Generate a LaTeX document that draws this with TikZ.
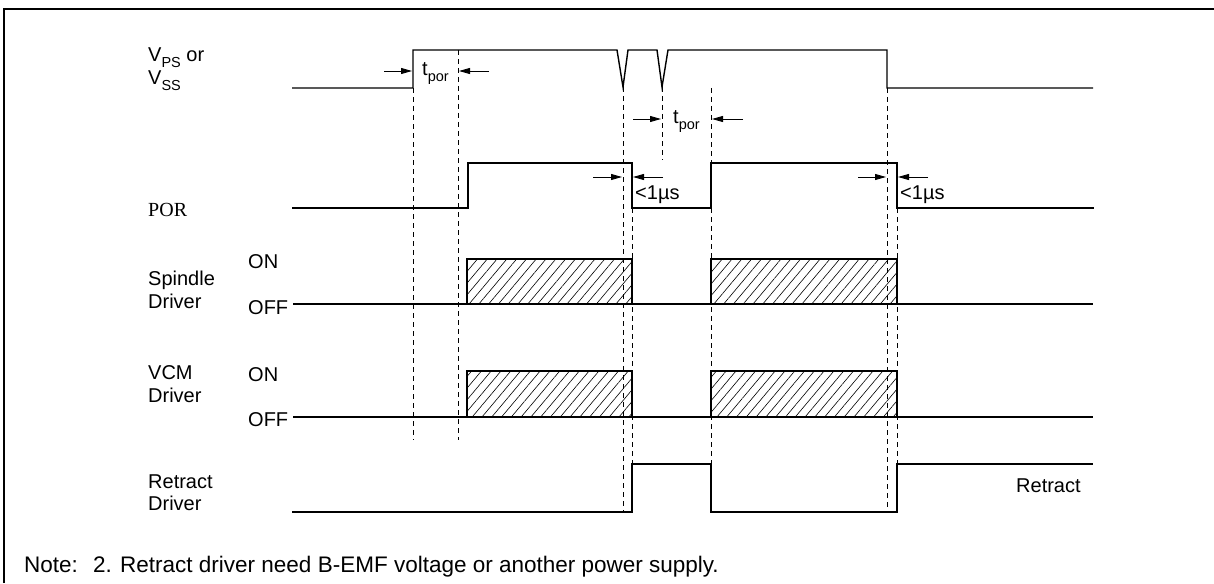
\documentclass[tikz,border=0pt]{standalone}
\usepackage{fontspec}
\setmainfont{Liberation Sans}
\newfontfamily\porfont{Liberation Serif}
\usetikzlibrary{arrows.meta,patterns.meta}
\newcommand{\sbs}[1]{\raisebox{-0.28em}{\fontsize{14.5}{15}\selectfont #1}}
\begin{document}
\begin{tikzpicture}[x=1pt,y=-1pt,
  sig/.style={line width=1.4pt},
  guide/.style={line width=0.9pt,dash pattern=on 5pt off 4pt},
  arr/.style={line width=0.9pt,-{Triangle[length=11pt,width=6pt]}},
  hatchbox/.style={draw,line width=1.4pt,pattern={Lines[angle=50,distance=7.5pt,line width=0.6pt]}},
  lbl/.style={anchor=base west,inner sep=0pt,font=\fontsize{20}{22}\selectfont},
  notetxt/.style={anchor=base west,inner sep=0pt,font=\fontsize{22.5}{24}\selectfont},
]
\useasboundingbox (0,0) rectangle (1214,583);
\fill[white] (0,0) rectangle (1214,583);
% frame
\draw[line width=1.2pt] (4,583) -- (4,9) -- (1214,9);

% ---- signal labels
\node[lbl] (vps) at (148,62) {V\sbs{PS} or};
\node[lbl] (vss) at (148,85) {V\sbs{SS}};
\node[lbl,font=\porfont\fontsize{20}{22}\selectfont] (por) at (148,216) {POR};
\node[lbl] (sp1) at (148,285) {Spindle};
\node[lbl] (sp2) at (148,308) {Driver};
\node[lbl] (vc1) at (148,379) {VCM};
\node[lbl] (vc2) at (148,402) {Driver};
\node[lbl] (re1) at (148,488) {Retract};
\node[lbl] (re2) at (148,510) {Driver};
\node[lbl] (on1) at (248,268) {ON};
\node[lbl] (off1) at (248,314) {OFF};
\node[lbl] (on2) at (248,381) {ON};
\node[lbl] (off2) at (248,426) {OFF};
\node[lbl] (retr) at (1016,492) {Retract};

% ---- dashed guides
\draw[guide] (413,88) -- (413,440);
\draw[guide] (458,50) -- (458,440);
\draw[guide] (623,87) -- (623,512);
\draw[guide] (632,208) -- (632,464);
\draw[guide] (662,87) -- (662,160);
\draw[guide] (711,88) -- (711,163);
\draw[guide] (711,208) -- (711,464);
\draw[guide] (887,88) -- (887,512);
\draw[guide] (897,208) -- (897,464);

% ---- V_PS / V_SS
\draw[sig] (292,88) -- (413,88) -- (413,50) -- (617,50) -- (623,87) -- (628,50)
  -- (657,50) -- (662,87) -- (668,50) -- (887,50) -- (887,88) -- (1093,88);

% ---- POR
\draw[sig] (292,208) -- (468,208) -- (468,163) -- (632,163) -- (632,208)
  -- (711,208) -- (711,163) -- (897,163) -- (897,208) -- (1094,208);

% ---- Spindle driver
\draw[hatchbox] (467,259) rectangle (632,304);
\draw[hatchbox] (711,259) rectangle (897,304);
\draw[sig] (293,304) -- (1093,304);

% ---- VCM driver
\draw[hatchbox] (467,371) rectangle (632,417);
\draw[hatchbox] (711,371) rectangle (897,417);
\draw[sig] (293,417) -- (1093,417);

% ---- Retract driver
\draw[sig] (292,512) -- (632,512) -- (632,464) -- (711,464) -- (711,512)
  -- (897,512) -- (897,464) -- (1093,464);

% ---- timing arrows
\coordinate (a1s) at (384,71); \coordinate (a1e) at (412,71);
\coordinate (a2s) at (489,71); \coordinate (a2e) at (459,71);
\draw[arr] (a1s) -- (a1e);
\draw[arr] (a2s) -- (a2e);
\node[lbl] (tpor1) at (422,76) {t\sbs{por}};

\coordinate (b1s) at (633,119); \coordinate (b1e) at (661,119);
\coordinate (b2s) at (743,119); \coordinate (b2e) at (712,119);
\draw[arr] (b1s) -- (b1e);
\draw[arr] (b2s) -- (b2e);
\node[lbl] (tpor2) at (673,124) {t\sbs{por}};

\coordinate (c1s) at (593,177); \coordinate (c1e) at (622,177);
\coordinate (c2s) at (663,177); \coordinate (c2e) at (633,177);
\draw[arr] (c1s) -- (c1e);
\draw[arr] (c2s) -- (c2e);
\node[lbl] (us1) at (635,199) {<1µs};

\coordinate (d1s) at (858,177); \coordinate (d1e) at (886,177);
\coordinate (d2s) at (928,177); \coordinate (d2e) at (898,177);
\draw[arr] (d1s) -- (d1e);
\draw[arr] (d2s) -- (d2e);
\node[lbl] (us2) at (900,199) {<1µs};

% ---- note
\node[notetxt] (note) at (24,572) {Note:};
\node[notetxt] (n2) at (93,572) {2.};
\node[notetxt] (ntext) at (120,572) {Retract driver need B-EMF voltage or another power supply.};
\end{tikzpicture}
\end{document}
